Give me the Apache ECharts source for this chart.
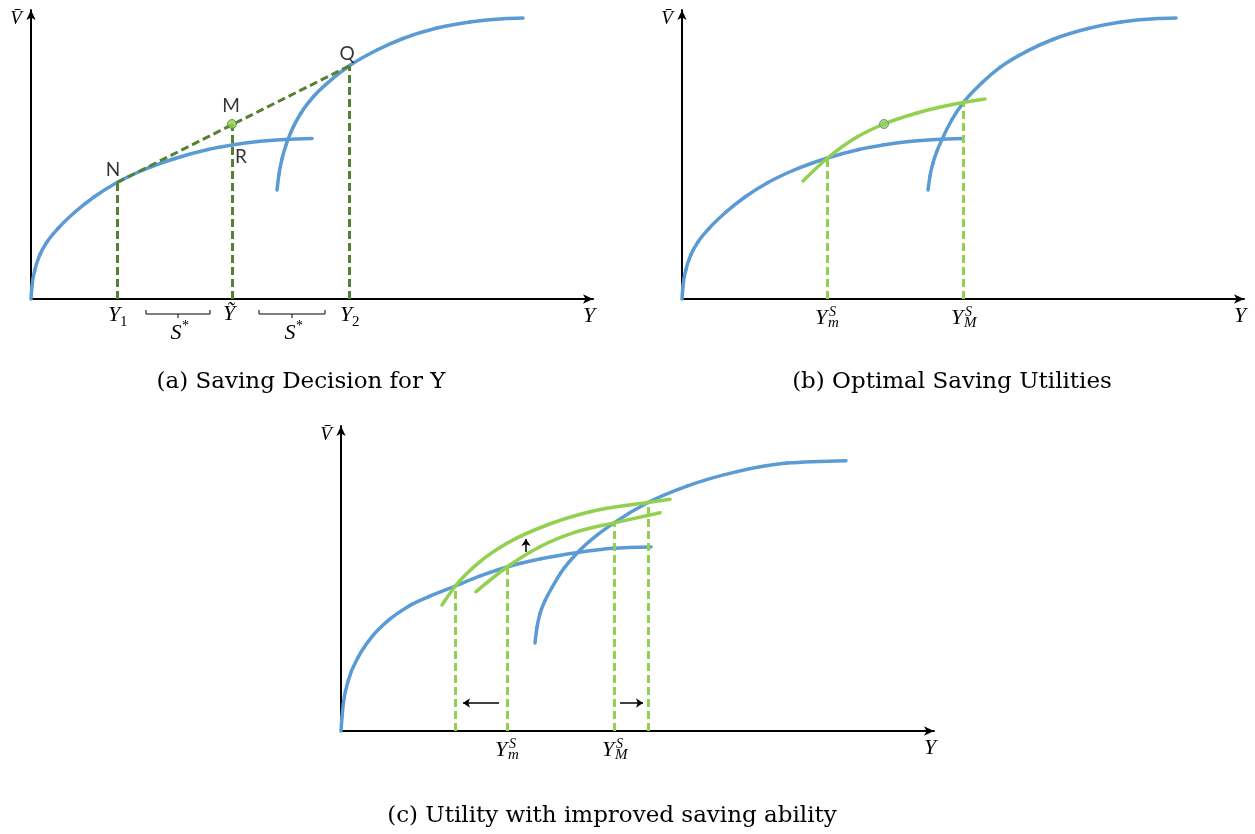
<!DOCTYPE html>
<html><head><meta charset="utf-8">
<script src="https://cdn.jsdelivr.net/npm/echarts@6/dist/echarts.min.js"></script>
<style>html,body{margin:0;padding:0;background:#fff}#c{width:1255px;height:834px}</style>
</head><body><div id="c"></div>
<script>
// ---------- data (units = px offsets from each panel's origin) ----------
const lowCurveAB  = [[0,0],[1,13],[4,29.5],[9,44.5],[16,57],[27,70.5],[44,87],[63,102],[86,116.5],[111,128.5],[144,140.5],[177,149.5],[201,154],[227,157.5],[254,159.5],[281,160.5]];
const highCurveA  = [[246,109],[248,125],[251,140],[255,154],[260,167],[270,186],[283,203],[300,219],[318,233],[346,249],[372,260.5],[406,271],[439,277],[472,280.3],[492,281]];
const chordA      = [[86,116.5],[318,233]];
const dropsA      = [[86,116.5],[201,175],[318,233]];
const pointNamesA = ['N','M','R','Q'];
const pointsA     = [[86,116.5],[201,175],[201,154],[318,233]];
const tickXA      = [86,201,318];
const tickTextA   = [['Y','1',''],['Y\u0303','',''],['Y','2','']];
const bracketsA   = [[115,179],[228,294]];
const bracketTextA= ['S','S'];

const highCurveB  = [[246,109],[248,123],[251,136],[255,148],[260,159.5],[270,179.5],[283,198.4],[300,216.3],[318,231.6],[346,248.4],[372,260],[406,270.5],[439,277],[472,280.3],[494,281]];
const greenB      = [[121,118],[145,140.5],[175,162],[202,175],[235,186],[281,196.5],[303,200]];
const dropsB      = [[145,140.5],[281,196.5]];
const dotB        = [[202,175]];
const tickXB      = [145,281];
const tickTextB   = [['Y','m','S'],['Y','M','S']];

const lowCurveC   = [[0,0],[1,14],[2.3,27],[7.3,50.5],[17.3,74],[30.7,94],[47.3,110.6],[67.3,124.6],[87.3,134.2],[113,144.5],[140,155.3],[166,164],[180,167.7],[200,172.3],[237,178.6],[272,182.8],[310,184.1]];
const highCurveC  = [[194,88],[196,103.7],[199,117.2],[204,130.2],[211,143.5],[220,158.5],[236,177.8],[256,195.8],[273,208.1],[307,228.5],[346,244.9],[396,259.4],[446,267.9],[505,270.3]];
const greenUpC    = [[101,126],[114,144.5],[139,169.3],[166,187.7],[206,206],[249,219.3],[307,228.5],[329,231.7]];
const greenLowC   = [[135,139.3],[166,164],[199,184.3],[236,199.3],[273,208.1],[319,218.3]];
const dropsC      = [[114,144.5],[166,164],[273,208.1],[307,228.5]];
const arrowsC     = [[[158,28],[122,28]],[[279,28],[302,28]],[[185,179],[185,192]]];
const tickXC      = [166,273];
const tickTextC   = [['Y','m','S'],['Y','M','S']];

const captions    = ['(a) Saving Decision for Y','(b) Optimal Saving Utilities','(c) Utility with improved saving ability'];

// ---------- layout / style ----------
const GRIDS = [
  {left:31,  top:10,  width:562, height:289},
  {left:682, top:10,  width:562, height:289},
  {left:341, top:426, width:593, height:305}
];
const BLUE = '#5b9bd5', DKGREEN = '#548235', LTGREEN = '#92d050';
const SERIF_I = 'italic 22px "Liberation Serif"';

const chart = echarts.init(document.getElementById('c'), null, {renderer:'canvas'});

function axis(gi, max) {
  return {
    gridIndex: gi, type: 'value', min: 0, max: max,
    axisLine: {show: true, onZero: false, symbol: ['none','arrow'], symbolSize: [7,10],
               lineStyle: {color: '#000', width: 2}},
    axisTick: {show: false}, axisLabel: {show: false}, splitLine: {show: false}
  };
}

// smooth curve through the data points (monotone cubic, computed on the axis-converted pixels)
function curve(gi, data, color) {
  return {
    type:'custom', xAxisIndex:gi, yAxisIndex:gi, data:data, silent:true, clip:false, z:3,
    renderItem: function (params, api) {
      if (params.dataIndex !== 0) return null;
      const P = data.map(d => api.coord(d));
      const n = P.length, h = [], s = [], m = [];
      for (let i = 0; i < n - 1; i++) { h[i] = P[i+1][0] - P[i][0]; s[i] = (P[i+1][1] - P[i][1]) / h[i]; }
      for (let i = 1; i < n - 1; i++) {
        const p = (s[i-1] * h[i] + s[i] * h[i-1]) / (h[i-1] + h[i]);
        m[i] = (Math.sign(s[i-1]) + Math.sign(s[i])) * Math.min(Math.abs(s[i-1]), Math.abs(s[i]), 0.5 * Math.abs(p)) || 0;
      }
      m[0] = n > 2 ? (3 * s[0] - m[1]) / 2 : s[0];
      m[n-1] = n > 2 ? (3 * s[n-2] - m[n-2]) / 2 : s[n-2];
      const children = [];
      for (let i = 0; i < n - 1; i++) {
        const d = h[i] / 3;
        children.push({type:'bezierCurve',
          shape:{x1:P[i][0], y1:P[i][1], cpx1:P[i][0] + d, cpy1:P[i][1] + m[i] * d,
                 cpx2:P[i+1][0] - d, cpy2:P[i+1][1] - m[i+1] * d, x2:P[i+1][0], y2:P[i+1][1]},
          style:{stroke:color, lineWidth:3.5, fill:null, lineCap:'round'}});
      }
      return {type:'group', children:children};
    }
  };
}
function drops(gi, arr, color) {
  return {type:'lines', coordinateSystem:'cartesian2d', xAxisIndex:gi, yAxisIndex:gi,
          data: arr.map(p => ({coords: [[p[0],0],[p[0],p[1]]]})),
          lineStyle:{color:color, width:3, type:[8,4], opacity:1}, symbol:'none', silent:true, clip:false, z:4};
}

const series = [
  // panel a
  curve(0, lowCurveAB, BLUE), curve(0, highCurveA, BLUE),
  {type:'line', xAxisIndex:0, yAxisIndex:0, data:chordA, symbol:'none',
   lineStyle:{color:DKGREEN, width:3, type:[8,4]}, silent:true, z:4},
  drops(0, dropsA, DKGREEN),
  {type:'lines', coordinateSystem:'cartesian2d', xAxisIndex:0, yAxisIndex:0, polyline:true, clip:false, silent:true,
   data: bracketsA.flatMap(b => [
     {coords: [[b[0],-11],[b[0],-15],[b[1],-15],[b[1],-11]]},
     {coords: [[(b[0]+b[1])/2,-15],[(b[0]+b[1])/2,-19]]}
   ]),
   lineStyle:{color:'#000', width:1, opacity:1}},
  {type:'scatter', xAxisIndex:0, yAxisIndex:0, silent:true, z:6,
   data: pointsA.map((p,i) => ({value:p, name:pointNamesA[i],
     symbolSize: pointNamesA[i]==='M' ? 9 : 0.1,
     itemStyle: pointNamesA[i]==='M' ? {color:LTGREEN, borderColor:DKGREEN, borderWidth:1} : {color:'rgba(0,0,0,0)'},
     label: {offset: [[-4,-13],[-1,-18],[9,12],[-2,-12]][i]}
   })),
   label:{show:true, position:'inside', formatter:'{b}', color:'#000', fontFamily:'Lato', fontSize:19}},
  // panel b
  curve(1, lowCurveAB, BLUE), curve(1, highCurveB, BLUE), curve(1, greenB, LTGREEN),
  drops(1, dropsB, LTGREEN),
  {type:'scatter', xAxisIndex:1, yAxisIndex:1, silent:true, z:6, data:dotB, symbolSize:9,
   itemStyle:{color:LTGREEN, borderColor:'#4a7ebb', borderWidth:1}},
  // panel c
  curve(2, lowCurveC, BLUE), curve(2, highCurveC, BLUE), curve(2, greenUpC, LTGREEN), curve(2, greenLowC, LTGREEN),
  drops(2, dropsC, LTGREEN),
  {type:'lines', coordinateSystem:'cartesian2d', xAxisIndex:2, yAxisIndex:2, silent:true, clip:false,
   data: arrowsC.map(a => ({coords:a})), symbol:['none','arrow'], symbolSize:7,
   lineStyle:{color:'#000', width:1.5, opacity:1}, z:6}
];

chart.setOption({
  animation: false,
  grid: GRIDS.map(g => Object.assign({containLabel:false, outerBoundsMode:'none'}, g)),
  xAxis: GRIDS.map((g,i) => axis(i, g.width)),
  yAxis: GRIDS.map((g,i) => axis(i, g.height)),
  series: series
});

// ---------- text placed through the axes' own scales ----------
const G = [];
function txt(x, y, text, font, align) {
  G.push({type:'text', x:x, y:y, silent:true, z:10,
    style:{text:text, font:font, fill:'#000', textAlign:align||'center', align:align||'center',
           textVerticalAlign:'middle', verticalAlign:'middle'}});
}
function tickLabel(gi, x, t) {
  const p = chart.convertToPixel({gridIndex:gi}, [x, 0]);
  const base = t[0], sub = t[1], sup = t[2];
  if (sub && sup) {
    txt(p[0]-6, p[1]+19, base, SERIF_I);
    txt(p[0]+2, p[1]+13, sup, 'italic 14px "Liberation Serif"', 'left');
    txt(p[0]+1, p[1]+24, sub, 'italic 15px "Liberation Serif"', 'left');
  } else if (sub) {
    txt(p[0]-3, p[1]+16, base, SERIF_I);
    txt(p[0]+3, p[1]+23, sub, '15px "Liberation Serif"', 'left');
  } else {
    txt(p[0]-3, p[1]+15, base, SERIF_I);
  }
}
tickXA.forEach((x,i) => tickLabel(0, x, tickTextA[i]));
tickXB.forEach((x,i) => tickLabel(1, x, tickTextB[i]));
tickXC.forEach((x,i) => tickLabel(2, x, tickTextC[i]));
bracketsA.forEach((b,i) => {
  const p = chart.convertToPixel({gridIndex:0}, [(b[0]+b[1])/2, 0]);
  txt(p[0]-2, p[1]+34, bracketTextA[i], SERIF_I);
  txt(p[0]+4, p[1]+27, '*', '14px "Liberation Serif"', 'left');
});
GRIDS.forEach((g,i) => {
  const top = chart.convertToPixel({gridIndex:i}, [0, g.height]);
  const end = chart.convertToPixel({gridIndex:i}, [g.width, 0]);
  txt(top[0]-15, top[1]+9, 'V\u0304', 'italic 19px "Liberation Serif"');
  txt(end[0]-4, end[1]+17, 'Y', SERIF_I);
});
const capPos = [[301,382],[952,382],[612,816]];
captions.forEach((c,i) => txt(capPos[i][0], capPos[i][1], c, '23px "DejaVu Serif"'));
chart.setOption({graphic: G});
</script></body></html>
